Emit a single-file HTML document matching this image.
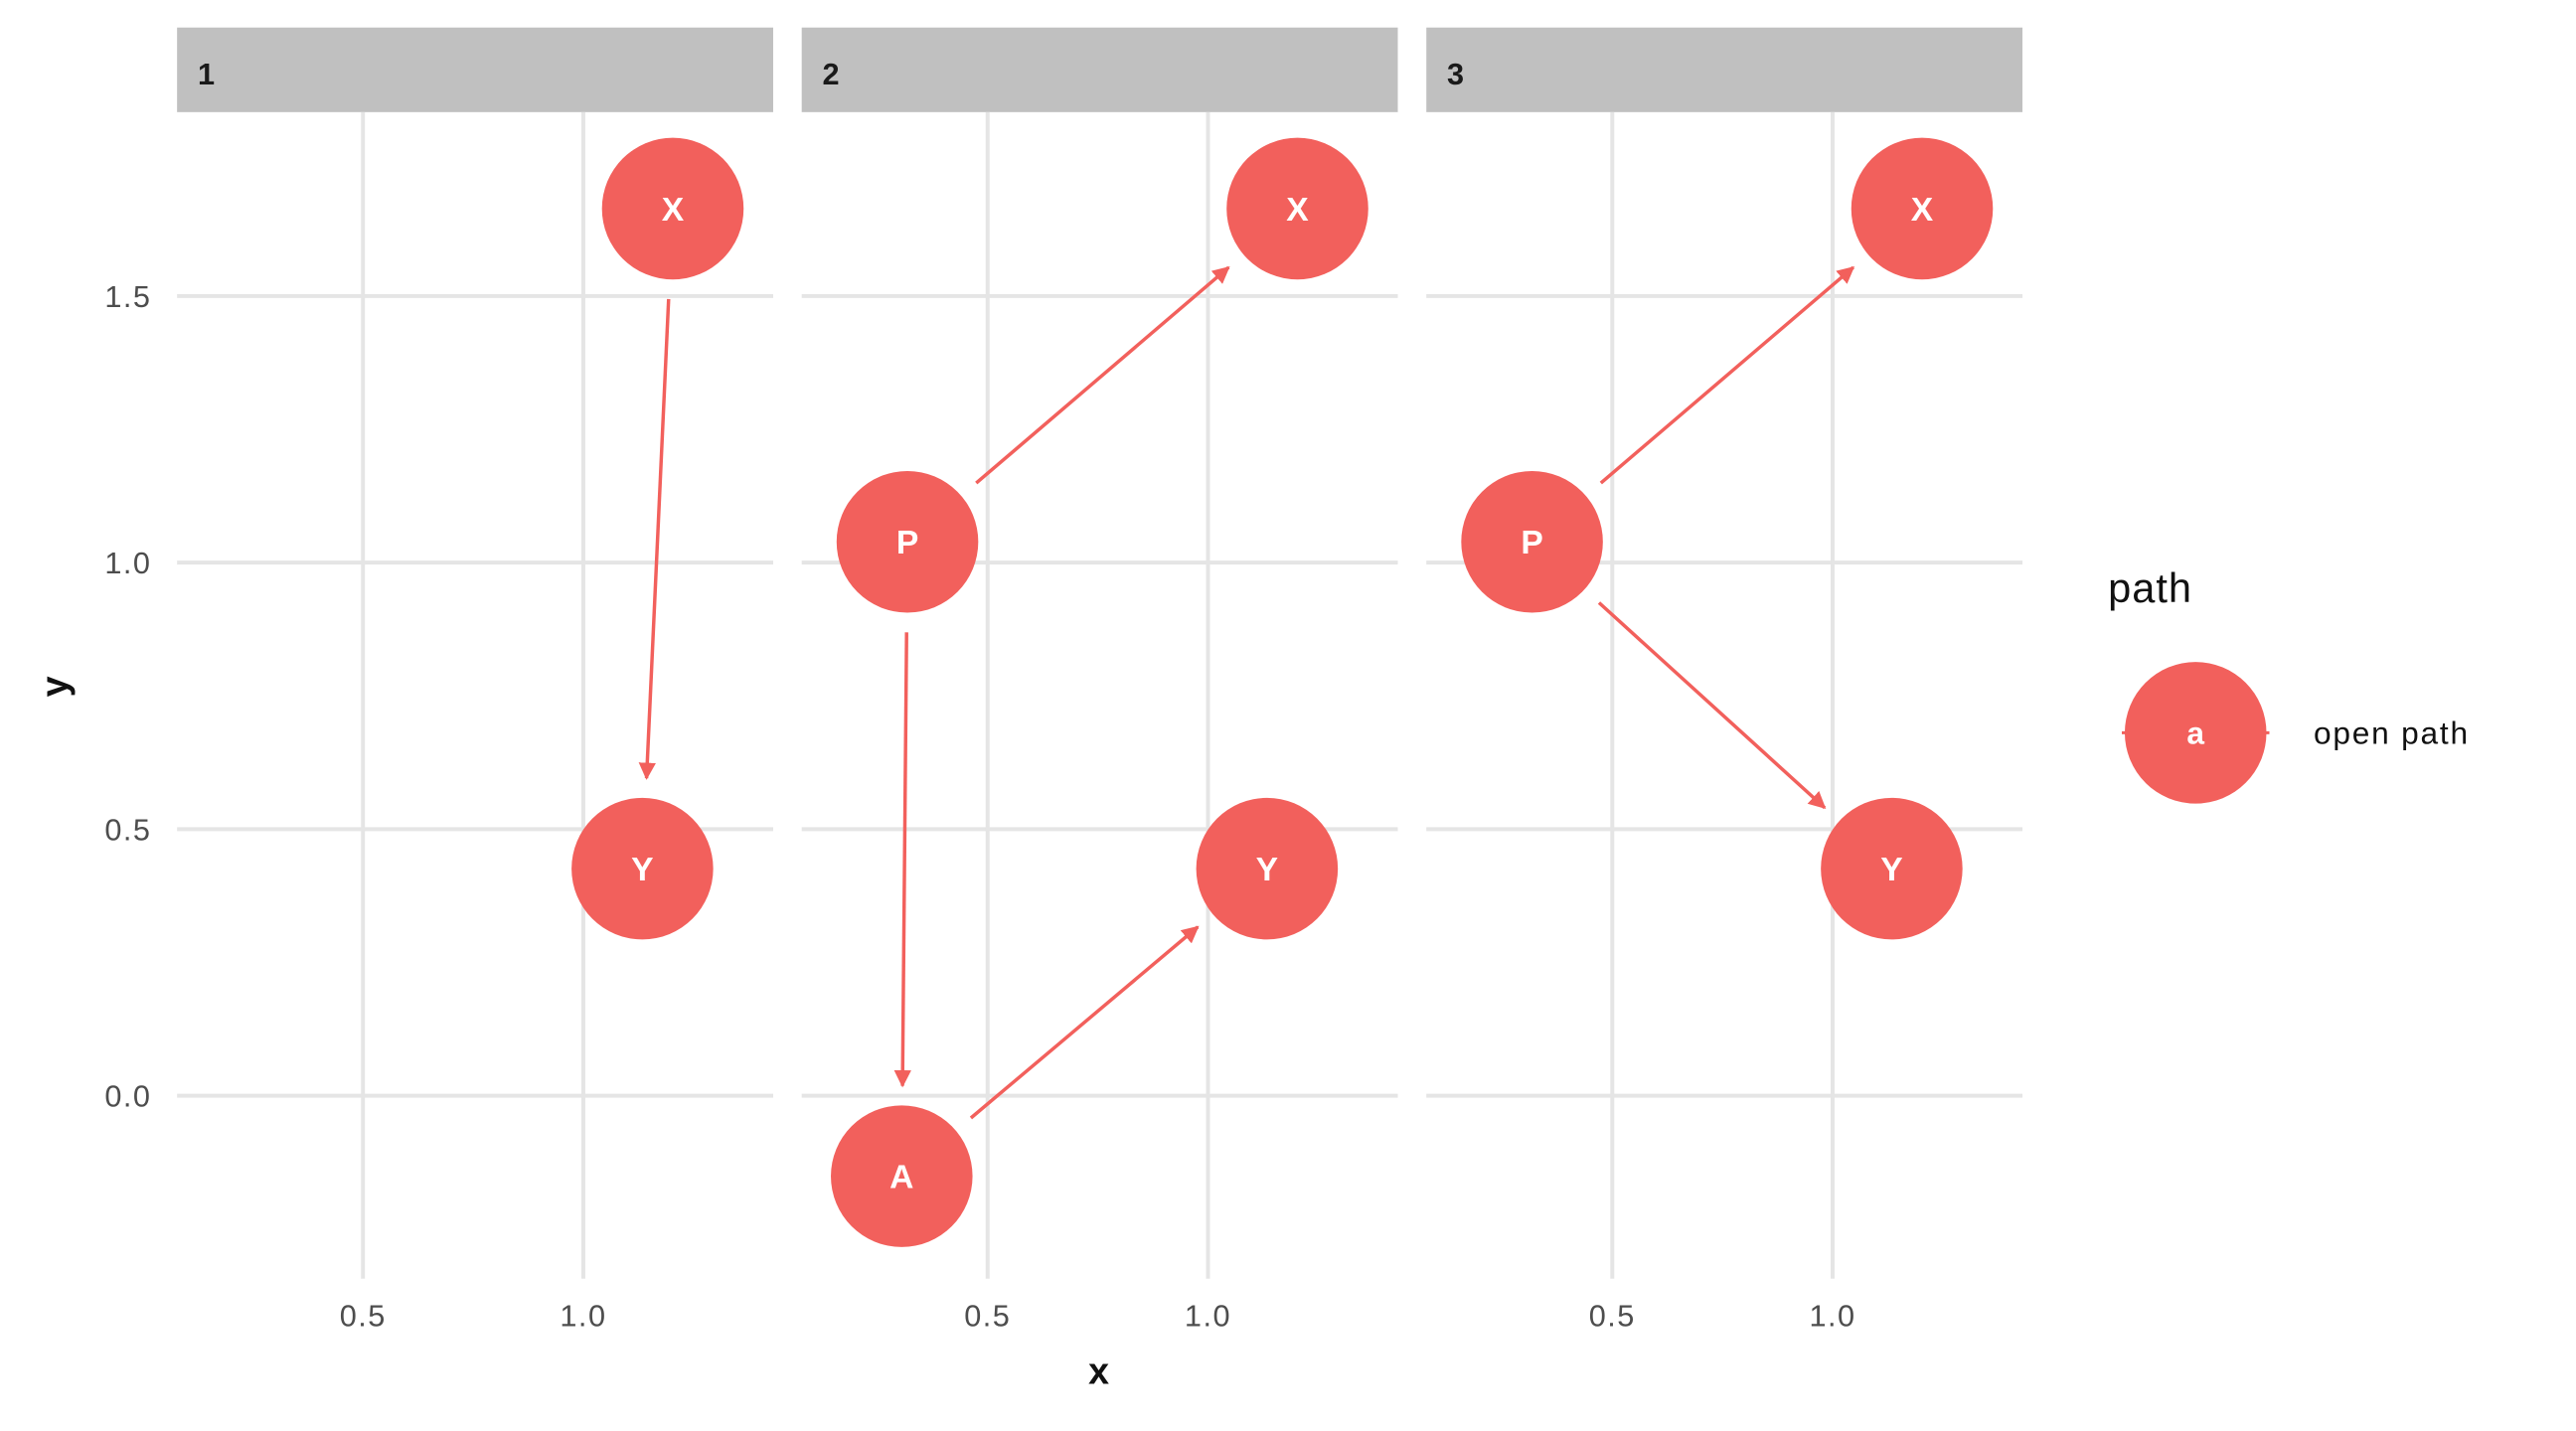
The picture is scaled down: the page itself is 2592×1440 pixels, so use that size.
<!DOCTYPE html>
<html><head><meta charset="utf-8"><style>
html,body{margin:0;padding:0;background:#fff;}
svg{display:block;font-family:"Liberation Sans","DejaVu Sans",sans-serif;}
</style></head><body>
<svg id="chart" width="2592" height="1440" viewBox="0 0 2592 1440" xmlns="http://www.w3.org/2000/svg">
<defs><marker id="arr" viewBox="0 0 10 10" refX="9" refY="5" markerWidth="5" markerHeight="5" orient="auto" markerUnits="strokeWidth"><path d="M0,0 L10,5 L0,10 z" fill="#F2605C"/></marker></defs>
<g transform="scale(0.9898)">
<g id="grid"></g><g id="marks"></g>
<text x="1117" y="1407" font-size="38" font-weight="bold" text-anchor="middle" fill="#111">x</text>
<text transform="translate(68,698) rotate(-90)" font-size="38" font-weight="bold" text-anchor="middle" fill="#111">y</text>
<g>
<text x="2143" y="612" font-size="42" letter-spacing="1" fill="#111">path</text>
<line x1="2157" y1="745" x2="2307" y2="745" stroke="#F2605C" stroke-width="3"/>
<circle cx="2232" cy="745" r="72" fill="#F2605C"/>
<text x="2232" y="756" font-size="32" font-weight="bold" fill="#fff" text-anchor="middle">a</text>
<text x="2352" y="756" font-size="32" letter-spacing="1.8" fill="#111">open path</text>
</g>
</g>
</svg>
<script>
const panels = ['1','2','3'];
const nodeNames = ['X','Y','P','A'];
const nodeX = [1.203, 1.134, 0.318, 0.305];
const nodeY = [1.664, 0.426, 1.039, -0.151];
const panelNodes = [['X','Y'],['X','Y','P','A'],['X','Y','P']];
const panelEdges = [[['X','Y']],[['P','X'],['P','A'],['A','Y']],[['P','X'],['P','Y']]];
const xTicks = [0.5, 1.0];
const yTicks = [0.0, 0.5, 1.0, 1.5];
const xTickLabels = ['0.5','1.0'];
const yTickLabels = ['0.0','0.5','1.0','1.5'];

const NS='http://www.w3.org/2000/svg';
const panelLeft=[180,815,1450], panelW=606, plotTop=114, plotBottom=1300;
function xs(p,v){return panelLeft[p]+189+(v-0.5)*448;}
function ys(v){return 1114-v*542;}
function mk(tag,attrs,parent){const e=document.createElementNS(NS,tag);for(const k in attrs)e.setAttribute(k,attrs[k]);parent.appendChild(e);return e;}
const gridG=document.getElementById('grid'), marksG=document.getElementById('marks');
const R=72;
panels.forEach((lab,p)=>{
  const s=mk('rect',{x:panelLeft[p],y:28,width:panelW,height:86,fill:'#C0C0C0'},gridG);
  
  
  const st=mk('text',{x:panelLeft[p]+21,y:86,'font-size':31,'font-weight':'bold',fill:'#1a1a1a'},gridG);
  st.textContent=lab;
  
  
  yTicks.forEach((t,i)=>{
    const l=mk('line',{x1:panelLeft[p],x2:panelLeft[p]+panelW,y1:ys(t),y2:ys(t),stroke:'#E5E5E5','stroke-width':4},gridG);
    
    
  });
  xTicks.forEach((t,i)=>{
    const l=mk('line',{x1:xs(p,t),x2:xs(p,t),y1:plotTop,y2:plotBottom,stroke:'#E5E5E5','stroke-width':4},gridG);
    
    
    const tx=mk('text',{x:xs(p,t),y:1348,'font-size':31,'letter-spacing':1.5,fill:'#4d4d4d','text-anchor':'middle'},gridG);
    tx.textContent=xTickLabels[i];
    
    
  });
  panelEdges[p].forEach(([a,b])=>{
    const ia=nodeNames.indexOf(a), ib=nodeNames.indexOf(b);
    const x1=xs(p,nodeX[ia]),y1=ys(nodeY[ia]),x2=xs(p,nodeX[ib]),y2=ys(nodeY[ib]);
    const dx=x2-x1,dy=y2-y1,d=Math.hypot(dx,dy),g=92;
    const l=mk('line',{x1:x1+dx/d*g,y1:y1+dy/d*g,x2:x2-dx/d*g,y2:y2-dy/d*g,stroke:'#F2605C','stroke-width':3.5,'marker-end':'url(#arr)'},marksG);
    
    
  });
  panelNodes[p].forEach(n=>{
    const i=nodeNames.indexOf(n);
    const c=mk('circle',{cx:xs(p,nodeX[i]),cy:ys(nodeY[i]),r:R,fill:'#F2605C'},marksG);
    
    
    const t=mk('text',{x:xs(p,nodeX[i]),y:ys(nodeY[i])+12,'font-size':34,'font-weight':'bold',fill:'#fff','text-anchor':'middle'},marksG);
    t.textContent=n;
    
    
  });
});
yTicks.forEach((t,i)=>{
  const tx=mk('text',{x:154,y:ys(t)+11,'font-size':31,'letter-spacing':1.5,fill:'#4d4d4d','text-anchor':'end'},gridG);
  tx.textContent=yTickLabels[i];
  
  
});
</script>
</body></html>
